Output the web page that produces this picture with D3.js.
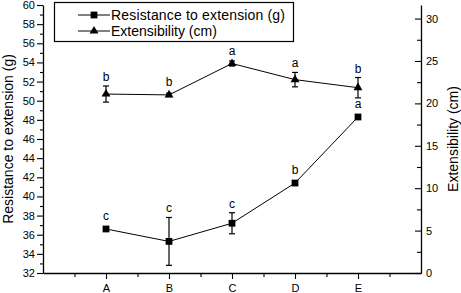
<!DOCTYPE html>
<html><head><meta charset="utf-8">
<script src="https://cdn.jsdelivr.net/npm/d3@7"></script>
<style>body{margin:0;background:#fff}svg{display:block;font-family:"Liberation Sans",Arial,sans-serif}</style>
</head><body><svg id="c" width="461" height="293"></svg>
<script>
const categories = ["A","B","C","D","E"];
const resistance = [36.6, 35.3, 37.2, 41.4, 48.3];
const resistanceErr = [0.25, 2.5, 1.1, 0.2, 0.25];
const resistanceLetters = ["c","c","c","b","a"];
const extensibility = [21.1, 21.0, 24.7, 22.8, 21.85];
const extensibilityErr = [0.95, 0.2, 0.3, 0.85, 1.2];
const extensibilityLetters = ["b","b","a","a","b"];
const leftTicks = [32,34,36,38,40,42,44,46,48,50,52,54,56,58,60];
const rightTicks = [0,5,10,15,20,25,30];

const svg = d3.select("#c");
const L = 43, R = 421, T = 5, B = 273;
const x = d3.scaleLinear().domain([0,6]).range([L,R]);
const yL = d3.scaleLinear().domain([32,60]).range([B,T]);
const yR = d3.scaleLinear().domain([0,31.6]).range([B,T]);

// Left axis
svg.append("g").attr("transform",`translate(${L},0)`)
  .call(d3.axisLeft(yL).tickValues(leftTicks).tickSize(6).tickSizeOuter(0).tickPadding(2));
svg.append("g").attr("transform",`translate(${L},0)`)
  .call(d3.axisLeft(yL).tickValues(d3.range(33,60,2)).tickSize(3).tickFormat("").tickSizeOuter(0))
  .select(".domain").remove();
// Right axis (ticks inward)
svg.append("g").attr("transform",`translate(${R},0)`)
  .call(d3.axisRight(yR).tickValues(rightTicks).tickSize(-6).tickSizeOuter(0).tickPadding(5));
svg.append("g").attr("transform",`translate(${R},0)`)
  .call(d3.axisRight(yR).tickValues([2.5,7.5,12.5,17.5,22.5,27.5]).tickSize(-4).tickFormat("").tickSizeOuter(0))
  .select(".domain").remove();
// Bottom axis
svg.append("g").attr("transform",`translate(0,${B})`)
  .call(d3.axisBottom(x).tickValues([1,2,3,4,5]).tickSize(6).tickSizeOuter(0).tickPadding(5).tickFormat(d=>categories[d-1]));
svg.append("g").attr("transform",`translate(0,${B})`)
  .call(d3.axisBottom(x).tickValues([0.5,1.5,2.5,3.5,4.5,5.5]).tickSize(4).tickFormat("").tickSizeOuter(0))
  .select(".domain").remove();

svg.selectAll(".domain").attr("stroke","#000").attr("stroke-width",1.3);
svg.selectAll(".tick line").attr("stroke","#000").attr("stroke-width",1.1);
svg.selectAll(".tick text").attr("font-size",11).attr("fill","#000")
  .attr("font-family","'Liberation Sans',Arial,sans-serif");

// Axis titles
svg.append("text").attr("transform",`translate(13,${(T+B)/2}) rotate(-90)`)
  .attr("text-anchor","middle").attr("font-size",14).text("Resistance to extension (g)");
svg.append("text").attr("transform",`translate(458,${(T+B)/2}) rotate(-90)`)
  .attr("text-anchor","middle").attr("font-size",14).text("Extensibility (cm)");

const tri = d3.symbol().type(d3.symbolTriangle).size(34);
const sq = d3.symbol().type(d3.symbolSquare).size(46);

function series(vals, errs, letters, y, sym){
  const idx = d3.range(vals.length);
  const line = d3.line().x(i=>x(i+1)).y(i=>y(vals[i]));
  svg.append("path").attr("d",line(idx)).attr("fill","none").attr("stroke","#000").attr("stroke-width",1);
  idx.forEach(i=>{
    const cx = x(i+1), t = y(vals[i]+errs[i]), b = y(vals[i]-errs[i]);
    const g = svg.append("g").attr("stroke","#000").attr("stroke-width",1.2);
    g.append("line").attr("x1",cx).attr("x2",cx).attr("y1",t).attr("y2",b);
    g.append("line").attr("x1",cx-3).attr("x2",cx+3).attr("y1",t).attr("y2",t);
    g.append("line").attr("x1",cx-3).attr("x2",cx+3).attr("y1",b).attr("y2",b);
    svg.append("path").attr("d",sym()).attr("transform",`translate(${cx},${y(vals[i])})`).attr("fill","#000");
    const top = Math.min(t, y(vals[i]) - 4);
    svg.append("text").attr("x",cx).attr("y",top-5).attr("text-anchor","middle")
      .attr("font-size",12).text(letters[i]);
  });
}
series(extensibility, extensibilityErr, extensibilityLetters, yR, tri);
series(resistance, resistanceErr, resistanceLetters, yL, sq);

// Legend
const lg = svg.append("g");
lg.append("rect").attr("x",54.5).attr("y",2.5).attr("width",239).attr("height",39)
  .attr("fill","#fff").attr("stroke","#000").attr("stroke-width",1.2);
const items = [{t:"Resistance to extension (g)", s:sq, y:15},{t:"Extensibility (cm)", s:tri, y:31}];
items.forEach(it=>{
  lg.append("line").attr("x1",78).attr("x2",110).attr("y1",it.y).attr("y2",it.y).attr("stroke","#000").attr("stroke-width",1);
  lg.append("path").attr("d",it.s()).attr("transform",`translate(94,${it.y})`).attr("fill","#000");
  lg.append("text").attr("x",111).attr("y",it.y+5).attr("font-size",14).attr("textLength",174).text(it.t === "Resistance to extension (g)" ? it.t : it.t);
});
d3.selectAll("text").filter(function(){return d3.select(this).text()==="Extensibility (cm)" && +d3.select(this).attr("x")===111;}).attr("textLength",null);
</script></body></html>
